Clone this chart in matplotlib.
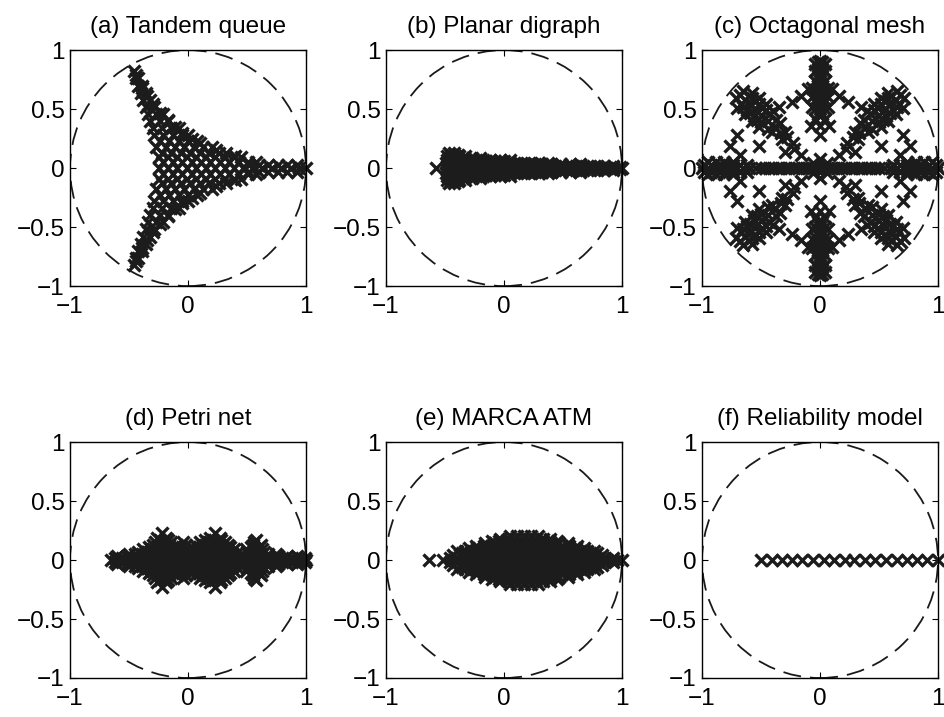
import matplotlib
matplotlib.use('Agg')
import matplotlib.pyplot as plt
from matplotlib.patches import Circle

plt.rcParams['font.family'] = ['Liberation Sans', 'DejaVu Sans']

titles = ['(a) Tandem queue', '(b) Planar digraph', '(c) Octagonal mesh',
          '(d) Petri net', '(e) MARCA ATM', '(f) Reliability model']

x_ticks = [-1, 0, 1]
x_tick_labels = ['\u22121', '0', '1']
y_ticks = [-1, -0.5, 0, 0.5, 1]
y_tick_labels = ['\u22121', '\u22120.5', '0', '0.5', '1']

# eigenvalues, grouped by imaginary part: (im, [re, ...])
tandem_rows = [
    (0.00, [-0.25, -0.17, -0.09, -0.01, 0.07, 0.15, 0.23, 0.31, 0.39, 0.47, 0.55, 0.63, 0.71, 0.79, 0.87, 0.94, 1.00]),
    (0.03, [0.52, 0.60, 0.68, 0.76, 0.84, 0.92]),
    (0.05, [-0.21, -0.13, -0.05, 0.03, 0.11, 0.19, 0.27, 0.35, 0.43, 0.51, 0.58]),
    (0.09, [-0.25, -0.17, -0.09, -0.01, 0.07, 0.15, 0.23, 0.31, 0.39, 0.45]),
    (0.13, [-0.22, -0.14, -0.06, 0.02, 0.10, 0.18, 0.26, 0.32]),
    (0.18, [-0.27, -0.19, -0.11, -0.03, 0.05, 0.13, 0.20]),
    (0.23, [-0.24, -0.16, -0.08, 0.00, 0.08]),
    (0.28, [-0.29, -0.21, -0.13, -0.05, 0.00]),
    (0.34, [-0.30, -0.22, -0.14, -0.08]),
    (0.40, [-0.32, -0.24, -0.17]),
    (0.46, [-0.34, -0.27, -0.21]),
    (0.52, [-0.36, -0.29]),
    (0.58, [-0.38, -0.32]),
    (0.64, [-0.40, -0.36]),
    (0.70, [-0.42, -0.39]),
    (0.76, [-0.44, -0.42]),
    (0.82, [-0.46]),
    (-0.03, [0.52, 0.60, 0.68, 0.76, 0.84, 0.92]),
    (-0.05, [-0.21, -0.13, -0.05, 0.03, 0.11, 0.19, 0.27, 0.35, 0.43, 0.51, 0.58]),
    (-0.09, [-0.25, -0.17, -0.09, -0.01, 0.07, 0.15, 0.23, 0.31, 0.39, 0.45]),
    (-0.13, [-0.22, -0.14, -0.06, 0.02, 0.10, 0.18, 0.26, 0.32]),
    (-0.18, [-0.27, -0.19, -0.11, -0.03, 0.05, 0.13, 0.20]),
    (-0.23, [-0.24, -0.16, -0.08, 0.00, 0.08]),
    (-0.28, [-0.29, -0.21, -0.13, -0.05, 0.00]),
    (-0.34, [-0.30, -0.22, -0.14, -0.08]),
    (-0.40, [-0.32, -0.24, -0.17]),
    (-0.46, [-0.34, -0.27, -0.21]),
    (-0.52, [-0.36, -0.29]),
    (-0.58, [-0.38, -0.32]),
    (-0.64, [-0.40, -0.36]),
    (-0.70, [-0.42, -0.39]),
    (-0.76, [-0.44, -0.42]),
    (-0.82, [-0.46]),
]

# eigenvalues along the concave edges of the star
tandem_edge = [
    (0.10, 0.21), (0.03, 0.25), (-0.05, 0.30), (-0.11, 0.35), (-0.17, 0.41), (-0.24, 0.47),
    (-0.30, 0.54), (-0.35, 0.61), (-0.39, 0.68), (-0.44, 0.79), (0.24, 0.15), (0.40, 0.10),
    (0.10, -0.21), (0.03, -0.25), (-0.05, -0.30), (-0.11, -0.35), (-0.17, -0.41), (-0.24, -0.47),
    (-0.30, -0.54), (-0.35, -0.61), (-0.39, -0.68), (-0.44, -0.79), (0.24, -0.15), (0.40, -0.10),
]

digraph_rows = [
    (0.00, [-0.58, -0.49, -0.44, -0.39, -0.34, -0.29, -0.24, -0.19, -0.14, -0.09, -0.04, 0.01, 0.06, 0.11, 0.16,
            0.21, 0.26, 0.31, 0.36, 0.41, 0.46, 0.51, 0.56, 0.61, 0.66, 0.71, 0.76, 0.81, 0.86, 0.91, 0.96, 1.00]),
    (0.01, [-0.46, -0.40, -0.34, -0.28, -0.22, -0.16, -0.10, -0.04, 0.02, 0.08, 0.14, 0.20, 0.26, 0.32, 0.38,
            0.44, 0.50, 0.56, 0.62, 0.68, 0.74, 0.80, 0.86, 0.92, 0.98]),
    (0.02, [-0.47, -0.41, -0.35, -0.29, -0.23, -0.17, -0.11, -0.05, 0.01, 0.07, 0.13, 0.19, 0.25, 0.31, 0.37,
            0.43, 0.49, 0.55, 0.61, 0.67, 0.73, 0.79, 0.85, 0.92]),
    (0.035, [-0.46, -0.40, -0.34, -0.28, -0.22, -0.16, -0.10, -0.04, 0.02, 0.08, 0.14, 0.20, 0.26, 0.32, 0.40,
             0.48, 0.56, 0.64]),
    (0.045, [-0.49, -0.43, -0.37, -0.31, -0.25, -0.19, -0.13, -0.07, -0.01, 0.05, 0.11, 0.17, 0.23, 0.30, 0.37]),
    (0.06, [-0.46, -0.40, -0.34, -0.28, -0.22, -0.15, -0.08, 0.00]),
    (0.07, [-0.48, -0.42, -0.36, -0.30, -0.24, -0.18, -0.12, -0.03, 0.05]),
    (0.085, [-0.46, -0.40, -0.34, -0.27, -0.20]),
    (0.10, [-0.48, -0.43, -0.38, -0.33]),
    (0.11, [-0.45, -0.39]),
    (0.125, [-0.47, -0.42]),
    (-0.01, [-0.46, -0.40, -0.34, -0.28, -0.22, -0.16, -0.10, -0.04, 0.02, 0.08, 0.14, 0.20, 0.26, 0.32, 0.38,
             0.44, 0.50, 0.56, 0.62, 0.68, 0.74, 0.80, 0.86, 0.92, 0.98]),
    (-0.02, [-0.47, -0.41, -0.35, -0.29, -0.23, -0.17, -0.11, -0.05, 0.01, 0.07, 0.13, 0.19, 0.25, 0.31, 0.37,
             0.43, 0.49, 0.55, 0.61, 0.67, 0.73, 0.79, 0.85, 0.92]),
    (-0.035, [-0.46, -0.40, -0.34, -0.28, -0.22, -0.16, -0.10, -0.04, 0.02, 0.08, 0.14, 0.20, 0.26, 0.32, 0.40,
              0.48, 0.56, 0.64]),
    (-0.045, [-0.49, -0.43, -0.37, -0.31, -0.25, -0.19, -0.13, -0.07, -0.01, 0.05, 0.11, 0.17, 0.23, 0.30, 0.37]),
    (-0.06, [-0.46, -0.40, -0.34, -0.28, -0.22, -0.15, -0.08, 0.00]),
    (-0.07, [-0.48, -0.42, -0.36, -0.30, -0.24, -0.18, -0.12, -0.03, 0.05]),
    (-0.085, [-0.46, -0.40, -0.34, -0.27, -0.20]),
    (-0.10, [-0.48, -0.43, -0.38, -0.33]),
    (-0.11, [-0.45, -0.39]),
    (-0.125, [-0.47, -0.42]),
]

mesh_rows = [
    (0.00, [-1.00, -0.95, -0.90, -0.85, -0.80, -0.75, -0.70, -0.65, -0.60, -0.54, -0.50, -0.47, -0.43, -0.40,
            -0.36, -0.33, -0.29, -0.26, -0.22, -0.19, -0.15, -0.12, -0.09, -0.06, -0.03, 0.00, 0.03, 0.06, 0.09,
            0.12, 0.15, 0.19, 0.22, 0.26, 0.29, 0.33, 0.36, 0.40, 0.43, 0.47, 0.50, 0.54, 0.60, 0.65, 0.70, 0.75,
            0.80, 0.85, 0.90, 0.95, 1.00]),
    (0.03, [-0.98, -0.92, -0.86, -0.80, -0.74, -0.68, -0.62, 0.62, 0.68, 0.74, 0.80, 0.86, 0.92, 0.98]),
    (-0.03, [-0.98, -0.92, -0.86, -0.80, -0.74, -0.68, -0.62, 0.62, 0.68, 0.74, 0.80, 0.86, 0.92, 0.98]),
    (0.05, [-0.95, -0.88, -0.81, -0.74, 0.74, 0.81, 0.88, 0.95]),
    (-0.05, [-0.95, -0.88, -0.81, -0.74, 0.74, 0.81, 0.88, 0.95]),
]

# vertical arms, grouped by real part: (re, [im, ...])
mesh_cols = [
    (0.00, [0.08, 0.28, 0.36, 0.44, 0.50, 0.56, 0.62, 0.68, 0.74, 0.80, 0.86, 0.91,
            -0.08, -0.28, -0.36, -0.44, -0.50, -0.56, -0.62, -0.68, -0.74, -0.80, -0.86, -0.91]),
    (0.02, [0.46, 0.54, 0.62, 0.70, 0.78, 0.84, 0.90, -0.46, -0.54, -0.62, -0.70, -0.78, -0.84, -0.90]),
    (-0.02, [0.46, 0.54, 0.62, 0.70, 0.78, 0.84, 0.90, -0.46, -0.54, -0.62, -0.70, -0.78, -0.84, -0.90]),
    (0.04, [0.42, 0.50, 0.58, 0.66, 0.74, 0.82, 0.88, -0.42, -0.50, -0.58, -0.66, -0.74, -0.82, -0.88]),
    (-0.04, [0.42, 0.50, 0.58, 0.66, 0.74, 0.82, 0.88, -0.42, -0.50, -0.58, -0.66, -0.74, -0.82, -0.88]),
    (0.07, [0.52, 0.60, 0.68, -0.52, -0.60, -0.68]),
    (-0.07, [0.52, 0.60, 0.68, -0.52, -0.60, -0.68]),
]

# diagonal arms and the links between the arms, one list per quadrant
mesh_q1 = [
    (0.33, 0.30), (0.39, 0.35), (0.44, 0.40), (0.49, 0.44), (0.54, 0.49), (0.59, 0.54), (0.64, 0.58), (0.68, 0.62),
    (0.37, 0.41), (0.43, 0.46), (0.49, 0.51), (0.55, 0.57), (0.60, 0.61),
    (0.44, 0.33), (0.50, 0.39), (0.56, 0.44), (0.62, 0.49), (0.67, 0.54),
    (0.40, 0.48), (0.52, 0.35), (0.46, 0.54), (0.58, 0.40), (0.52, 0.59), (0.64, 0.46),
    (0.34, 0.38), (0.41, 0.31), (0.46, 0.49), (0.53, 0.41), (0.52, 0.54), (0.59, 0.47), (0.58, 0.59), (0.65, 0.52),
    (0.58, 0.64), (0.70, 0.51), (0.65, 0.65), (0.71, 0.59), (0.30, 0.31), (0.32, 0.25),
    (0.28, 0.26), (0.23, 0.21),
    (0.35, 0.52), (0.24, 0.56), (0.16, 0.61), (0.10, 0.67),
    (0.76, 0.19), (0.70, 0.28), (0.68, 0.11),
    (0.52, 0.19), (0.30, 0.14), (0.22, 0.16), (0.16, 0.11), (0.06, 0.04), (0.08, 0.36),
]
mesh_q2 = [
    (-0.33, 0.30), (-0.39, 0.35), (-0.44, 0.40), (-0.49, 0.44), (-0.54, 0.49), (-0.59, 0.54), (-0.64, 0.58), (-0.68, 0.62),
    (-0.37, 0.41), (-0.43, 0.46), (-0.49, 0.51), (-0.55, 0.57), (-0.60, 0.61),
    (-0.44, 0.33), (-0.50, 0.39), (-0.56, 0.44), (-0.62, 0.49), (-0.67, 0.54),
    (-0.40, 0.48), (-0.52, 0.35), (-0.46, 0.54), (-0.58, 0.40), (-0.52, 0.59), (-0.64, 0.46),
    (-0.34, 0.38), (-0.41, 0.31), (-0.46, 0.49), (-0.53, 0.41), (-0.52, 0.54), (-0.59, 0.47), (-0.58, 0.59), (-0.65, 0.52),
    (-0.58, 0.64), (-0.70, 0.51), (-0.65, 0.65), (-0.71, 0.59), (-0.30, 0.31), (-0.32, 0.25),
    (-0.28, 0.26), (-0.23, 0.21),
    (-0.35, 0.52), (-0.24, 0.56), (-0.16, 0.61), (-0.10, 0.67),
    (-0.76, 0.19), (-0.70, 0.28), (-0.68, 0.11),
    (-0.52, 0.19), (-0.30, 0.14), (-0.22, 0.16), (-0.16, 0.11), (-0.06, 0.04), (-0.08, 0.36),
]
mesh_q3 = [
    (-0.33, -0.30), (-0.39, -0.35), (-0.44, -0.40), (-0.49, -0.44), (-0.54, -0.49), (-0.59, -0.54), (-0.64, -0.58), (-0.68, -0.62),
    (-0.37, -0.41), (-0.43, -0.46), (-0.49, -0.51), (-0.55, -0.57), (-0.60, -0.61),
    (-0.44, -0.33), (-0.50, -0.39), (-0.56, -0.44), (-0.62, -0.49), (-0.67, -0.54),
    (-0.40, -0.48), (-0.52, -0.35), (-0.46, -0.54), (-0.58, -0.40), (-0.52, -0.59), (-0.64, -0.46),
    (-0.34, -0.38), (-0.41, -0.31), (-0.46, -0.49), (-0.53, -0.41), (-0.52, -0.54), (-0.59, -0.47), (-0.58, -0.59), (-0.65, -0.52),
    (-0.58, -0.64), (-0.70, -0.51), (-0.65, -0.65), (-0.71, -0.59), (-0.30, -0.31), (-0.32, -0.25),
    (-0.28, -0.26), (-0.23, -0.21),
    (-0.35, -0.52), (-0.24, -0.56), (-0.16, -0.61), (-0.10, -0.67),
    (-0.76, -0.19), (-0.70, -0.28), (-0.68, -0.11),
    (-0.52, -0.19), (-0.30, -0.14), (-0.22, -0.16), (-0.16, -0.11), (-0.06, -0.04), (-0.08, -0.36),
]
mesh_q4 = [
    (0.33, -0.30), (0.39, -0.35), (0.44, -0.40), (0.49, -0.44), (0.54, -0.49), (0.59, -0.54), (0.64, -0.58), (0.68, -0.62),
    (0.37, -0.41), (0.43, -0.46), (0.49, -0.51), (0.55, -0.57), (0.60, -0.61),
    (0.44, -0.33), (0.50, -0.39), (0.56, -0.44), (0.62, -0.49), (0.67, -0.54),
    (0.40, -0.48), (0.52, -0.35), (0.46, -0.54), (0.58, -0.40), (0.52, -0.59), (0.64, -0.46),
    (0.34, -0.38), (0.41, -0.31), (0.46, -0.49), (0.53, -0.41), (0.52, -0.54), (0.59, -0.47), (0.58, -0.59), (0.65, -0.52),
    (0.58, -0.64), (0.70, -0.51), (0.65, -0.65), (0.71, -0.59), (0.30, -0.31), (0.32, -0.25),
    (0.28, -0.26), (0.23, -0.21),
    (0.35, -0.52), (0.24, -0.56), (0.16, -0.61), (0.10, -0.67),
    (0.76, -0.19), (0.70, -0.28), (0.68, -0.11),
    (0.52, -0.19), (0.30, -0.14), (0.22, -0.16), (0.16, -0.11), (0.06, -0.04), (0.08, -0.36),
]

petri_rows = [
    (0.00, [-0.65, -0.59, -0.53, -0.47, -0.41, -0.35, -0.29, -0.23, -0.17, -0.11, -0.05, 0.01, 0.07, 0.13, 0.19,
            0.25, 0.31, 0.37, 0.43, 0.49, 0.55, 0.61, 0.67, 0.73, 0.79, 0.85, 0.91, 0.96, 1.00]),
    (0.015, [-0.62, -0.56, -0.50, -0.44, -0.38, -0.32, -0.26, -0.20, -0.14, -0.08, -0.02, 0.04, 0.10, 0.16, 0.22,
             0.28, 0.34, 0.40, 0.46, 0.52, 0.58, 0.64, 0.70, 0.76, 0.82, 0.88, 0.94, 0.99]),
    (0.03, [-0.60, -0.52, -0.44, -0.36, -0.28, -0.20, -0.12, -0.04, 0.04, 0.12, 0.20, 0.28, 0.36, 0.44, 0.52,
            0.60, 0.68, 0.76, 0.84, 0.92]),
    (0.05, [-0.50, -0.45, -0.39, -0.32, -0.25, -0.18, -0.11, -0.04, 0.03, 0.10, 0.17, 0.24, 0.31, 0.38, 0.46,
            0.53, 0.60, 0.68, 0.75]),
    (0.07, [-0.42, -0.35, -0.28, -0.21, -0.14, -0.07, 0.00, 0.07, 0.14, 0.21, 0.28, 0.35, 0.42, 0.50, 0.57, 0.64]),
    (0.09, [-0.38, -0.31, -0.24, -0.17, -0.10, -0.03, 0.04, 0.11, 0.18, 0.25, 0.32, 0.39, 0.49, 0.56, 0.63]),
    (0.11, [-0.33, -0.26, -0.19, -0.12, -0.05, 0.02, 0.09, 0.16, 0.23, 0.30, 0.36, 0.53, 0.60]),
    (0.13, [-0.30, -0.23, -0.16, -0.09, -0.02, 0.06, 0.13, 0.20, 0.27, 0.34, 0.55, 0.62]),
    (0.15, [-0.28, -0.21, -0.14, -0.04, 0.10, 0.17, 0.24, 0.31, 0.56]),
    (0.17, [-0.24, -0.17, 0.14, 0.21, 0.28, 0.58]),
    (0.19, [-0.26, -0.19, 0.19, 0.27]),
    (0.23, [-0.22, 0.23]),
    (-0.015, [-0.62, -0.56, -0.50, -0.44, -0.38, -0.32, -0.26, -0.20, -0.14, -0.08, -0.02, 0.04, 0.10, 0.16, 0.22,
              0.28, 0.34, 0.40, 0.46, 0.52, 0.58, 0.64, 0.70, 0.76, 0.82, 0.88, 0.94, 0.99]),
    (-0.03, [-0.60, -0.52, -0.44, -0.36, -0.28, -0.20, -0.12, -0.04, 0.04, 0.12, 0.20, 0.28, 0.36, 0.44, 0.52,
             0.60, 0.68, 0.76, 0.84, 0.92]),
    (-0.05, [-0.50, -0.45, -0.39, -0.32, -0.25, -0.18, -0.11, -0.04, 0.03, 0.10, 0.17, 0.24, 0.31, 0.38, 0.46,
             0.53, 0.60, 0.68, 0.75]),
    (-0.07, [-0.42, -0.35, -0.28, -0.21, -0.14, -0.07, 0.00, 0.07, 0.14, 0.21, 0.28, 0.35, 0.42, 0.50, 0.57, 0.64]),
    (-0.09, [-0.38, -0.31, -0.24, -0.17, -0.10, -0.03, 0.04, 0.11, 0.18, 0.25, 0.32, 0.39, 0.49, 0.56, 0.63]),
    (-0.11, [-0.33, -0.26, -0.19, -0.12, -0.05, 0.02, 0.09, 0.16, 0.23, 0.30, 0.36, 0.53, 0.60]),
    (-0.13, [-0.30, -0.23, -0.16, -0.09, -0.02, 0.06, 0.13, 0.20, 0.27, 0.34, 0.55, 0.62]),
    (-0.15, [-0.28, -0.21, -0.14, -0.04, 0.10, 0.17, 0.24, 0.31, 0.56]),
    (-0.17, [-0.24, -0.17, 0.14, 0.21, 0.28, 0.58]),
    (-0.19, [-0.26, -0.19, 0.19, 0.27]),
    (-0.23, [-0.22, 0.23]),
]

marca_rows = [
    (0.00, [-0.64, -0.52, -0.42, -0.35, -0.28, -0.22, -0.16, -0.10, -0.04, 0.02, 0.08, 0.14, 0.20, 0.26, 0.32,
            0.38, 0.44, 0.50, 0.56, 0.62, 0.68, 0.74, 0.80, 0.86, 0.91, 0.96, 1.00]),
    (0.02, [-0.46, -0.40, -0.34, -0.28, -0.22, -0.16, -0.10, -0.04, 0.02, 0.08, 0.14, 0.20, 0.26, 0.32, 0.38,
            0.44, 0.50, 0.56, 0.62, 0.68, 0.74, 0.80, 0.86, 0.92]),
    (0.04, [-0.43, -0.37, -0.31, -0.25, -0.19, -0.13, -0.07, -0.01, 0.05, 0.11, 0.17, 0.23, 0.29, 0.35, 0.41,
            0.47, 0.53, 0.59, 0.65, 0.71, 0.77, 0.83]),
    (0.06, [-0.36, -0.29, -0.23, -0.17, -0.11, -0.05, 0.01, 0.07, 0.13, 0.19, 0.25, 0.31, 0.37, 0.43, 0.49,
            0.55, 0.61, 0.67, 0.73, 0.79]),
    (0.08, [-0.40, -0.33, -0.26, -0.20, -0.14, -0.08, -0.02, 0.04, 0.10, 0.16, 0.22, 0.28, 0.34, 0.40, 0.46,
            0.52, 0.58, 0.64, 0.70, 0.76]),
    (0.10, [-0.30, -0.23, -0.17, -0.11, -0.05, 0.01, 0.07, 0.13, 0.19, 0.25, 0.31, 0.37, 0.43, 0.49, 0.55,
            0.61, 0.68]),
    (0.12, [-0.24, -0.17, -0.11, -0.05, 0.01, 0.07, 0.13, 0.19, 0.25, 0.31, 0.37, 0.43, 0.49, 0.55, 0.62]),
    (0.14, [-0.16, -0.08, -0.02, 0.04, 0.10, 0.16, 0.22, 0.28, 0.34, 0.40, 0.47, 0.54]),
    (0.16, [-0.10, -0.04, 0.02, 0.08, 0.14, 0.20, 0.26, 0.32, 0.38, 0.45]),
    (0.18, [-0.03, 0.03, 0.09, 0.15, 0.21, 0.27, 0.33, 0.39]),
    (0.20, [0.05, 0.11, 0.17, 0.23, 0.29]),
    (-0.02, [-0.46, -0.40, -0.34, -0.28, -0.22, -0.16, -0.10, -0.04, 0.02, 0.08, 0.14, 0.20, 0.26, 0.32, 0.38,
             0.44, 0.50, 0.56, 0.62, 0.68, 0.74, 0.80, 0.86, 0.92]),
    (-0.04, [-0.43, -0.37, -0.31, -0.25, -0.19, -0.13, -0.07, -0.01, 0.05, 0.11, 0.17, 0.23, 0.29, 0.35, 0.41,
             0.47, 0.53, 0.59, 0.65, 0.71, 0.77, 0.83]),
    (-0.06, [-0.36, -0.29, -0.23, -0.17, -0.11, -0.05, 0.01, 0.07, 0.13, 0.19, 0.25, 0.31, 0.37, 0.43, 0.49,
             0.55, 0.61, 0.67, 0.73, 0.79]),
    (-0.08, [-0.40, -0.33, -0.26, -0.20, -0.14, -0.08, -0.02, 0.04, 0.10, 0.16, 0.22, 0.28, 0.34, 0.40, 0.46,
             0.52, 0.58, 0.64, 0.70, 0.76]),
    (-0.10, [-0.30, -0.23, -0.17, -0.11, -0.05, 0.01, 0.07, 0.13, 0.19, 0.25, 0.31, 0.37, 0.43, 0.49, 0.55,
             0.61, 0.68]),
    (-0.12, [-0.24, -0.17, -0.11, -0.05, 0.01, 0.07, 0.13, 0.19, 0.25, 0.31, 0.37, 0.43, 0.49, 0.55, 0.62]),
    (-0.14, [-0.16, -0.08, -0.02, 0.04, 0.10, 0.16, 0.22, 0.28, 0.34, 0.40, 0.47, 0.54]),
    (-0.16, [-0.10, -0.04, 0.02, 0.08, 0.14, 0.20, 0.26, 0.32, 0.38, 0.45]),
    (-0.18, [-0.03, 0.03, 0.09, 0.15, 0.21, 0.27, 0.33, 0.39]),
    (-0.20, [0.05, 0.11, 0.17, 0.23, 0.29]),
]

reliability_rows = [
    (0.00, [-0.50, -0.41, -0.32, -0.24, -0.15, -0.06, 0.03, 0.12, 0.21, 0.29, 0.38, 0.47, 0.56, 0.65, 0.74,
            0.82, 0.91, 1.00]),
]


def from_rows(rows):
    xs, ys = [], []
    for y, row in rows:
        xs += row
        ys += [y] * len(row)
    return xs, ys


def from_cols(cols):
    xs, ys = [], []
    for x, col in cols:
        xs += [x] * len(col)
        ys += col
    return xs, ys


def from_points(points):
    return [p[0] for p in points], [p[1] for p in points]


tandem_x, tandem_y = from_rows(tandem_rows)
ex, ey = from_points(tandem_edge)
tandem_x = tandem_x + ex
tandem_y = tandem_y + ey

mesh_x, mesh_y = from_rows(mesh_rows)
cx, cy = from_cols(mesh_cols)
qx, qy = from_points(mesh_q1 + mesh_q2 + mesh_q3 + mesh_q4)
mesh_x = mesh_x + cx + qx
mesh_y = mesh_y + cy + qy

panels = [
    (tandem_x, tandem_y),
    from_rows(digraph_rows),
    (mesh_x, mesh_y),
    from_rows(petri_rows),
    from_rows(marca_rows),
    from_rows(reliability_rows),
]

fig = plt.figure(figsize=(9.45, 7.17), dpi=100)

lefts = [0.0741, 0.4085, 0.7429]
bottoms = [0.601, 0.0544]
width = 0.2497
height = 0.3291

for i, (xs, ys) in enumerate(panels):
    ax = fig.add_axes([lefts[i % 3], bottoms[i // 3], width, height])

    ax.add_patch(Circle((0, 0), 1, fill=False, color='#1a1a1a', lw=1.3,
                        linestyle=(0, (10, 5)), zorder=1))
    ax.plot(xs, ys, 'x', color='#1c1c1c', markersize=9, mew=2.4,
            clip_on=False, zorder=2)

    ax.set_xlim(-1, 1)
    ax.set_ylim(-1, 1)
    ax.set_aspect('equal', adjustable='box')
    ax.set_xticks(x_ticks)
    ax.set_xticklabels(x_tick_labels)
    ax.set_yticks(y_ticks)
    ax.set_yticklabels(y_tick_labels)
    ax.tick_params(direction='in', top=True, right=True, length=4,
                   width=0.8, labelsize=17.5)
    ax.tick_params(axis='x', pad=7)
    ax.tick_params(axis='y', pad=4)
    for s in ax.spines.values():
        s.set_linewidth(1.0)
    ax.set_title(titles[i], fontsize=17.5, pad=12)

plt.savefig('out.png', dpi=100)
